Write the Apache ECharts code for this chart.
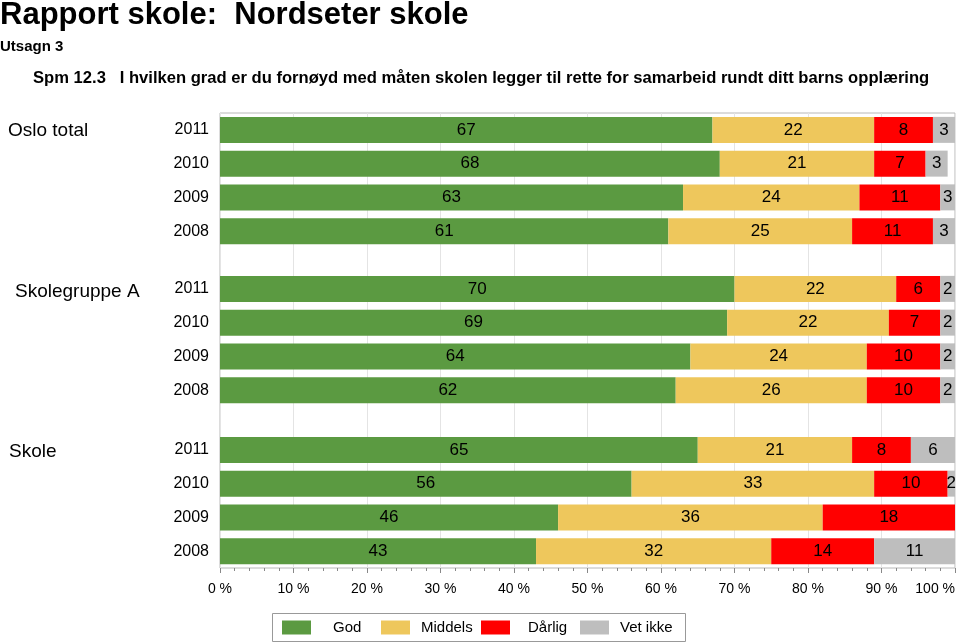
<!DOCTYPE html>
<html>
<head>
<meta charset="utf-8">
<script src="https://cdn.jsdelivr.net/npm/echarts@6/dist/echarts.min.js"></script>
<style>html,body{margin:0;padding:0;background:#fff}#c{width:960px;height:643px}</style>
</head>
<body>
<div id="c"></div>
<script>
var years = ['2011', '2010', '2009', '2008'];
var groups = ['Oslo total', 'Skolegruppe A', 'Skole'];
var categories = ['God', 'Middels', 'Dårlig', 'Vet ikke'];
var colors = ['#5B9A41', '#EEC75C', '#FF0000', '#BEBEBE'];

// values per group: [God, Middels, Dårlig, Vet ikke] by year (2011..2008)
var osloGod = [67, 68, 63, 61];
var osloMiddels = [22, 21, 24, 25];
var osloDarlig = [8, 7, 11, 11];
var osloVetIkke = [3, 3, 3, 3];

var gruppeGod = [70, 69, 64, 62];
var gruppeMiddels = [22, 22, 24, 26];
var gruppeDarlig = [6, 7, 10, 10];
var gruppeVetIkke = [2, 2, 2, 2];

var skoleGod = [65, 56, 46, 43];
var skoleMiddels = [21, 33, 36, 32];
var skoleDarlig = [8, 10, 18, 14];
var skoleVetIkke = [6, 2, 0, 11];

var xTicks = [0, 10, 20, 30, 40, 50, 60, 70, 80, 90, 100];

var groupData = [
  [osloGod, osloMiddels, osloDarlig, osloVetIkke],
  [gruppeGod, gruppeMiddels, gruppeDarlig, gruppeVetIkke],
  [skoleGod, skoleMiddels, skoleDarlig, skoleVetIkke]
];

var FONT = 'Liberation Sans, Arial, Helvetica, sans-serif';
var gridTops = [113, 272, 433];
var slotH = 33.75;

var grids = [{left: 220, right: 5, top: 113, bottom: 75, show: true, borderColor: '#b8b8b8', borderWidth: 1, z: 0, containLabel: false, outerBoundsMode: 'none'}];
var xAxes = [{
  gridIndex: 0, type: 'value', min: xTicks[0], max: xTicks[xTicks.length - 1], interval: 10,
  axisLine: {show: false},
  axisTick: {show: true, length: 5, lineStyle: {color: '#888'}},
  minorTick: {show: true, splitNumber: 5, length: 3, lineStyle: {color: '#888'}},
  splitLine: {show: true, lineStyle: {color: '#e4e4e4', width: 1}},
  axisLabel: {formatter: '{value} %', color: '#000', fontSize: 14, fontFamily: FONT, margin: 14, hideOverlap: false, alignMaxLabel: 'right', overflow: 'none'}
}];
var yAxes = [{gridIndex: 0, type: 'value', show: false}];
var series = [];

groups.forEach(function (g, gi) {
  var idx = gi + 1;
  grids.push({left: 220, right: 5, top: gridTops[gi], height: slotH * years.length, show: false, containLabel: false, outerBoundsMode: 'none'});
  xAxes.push({gridIndex: idx, type: 'value', min: 0, max: 100, show: false, splitLine: {show: false}});
  yAxes.push({
    gridIndex: idx, type: 'category', data: years, inverse: true,
    axisLine: {show: false}, axisTick: {show: false}, splitLine: {show: false},
    axisLabel: {color: '#000', fontSize: 16, fontFamily: FONT, margin: 11}
  });
  categories.forEach(function (cat, ci) {
    series.push({
      name: cat, type: 'bar', stack: 'g' + gi,
      xAxisIndex: idx, yAxisIndex: idx,
      barWidth: 26,
      itemStyle: {color: colors[ci]},
      label: {
        show: true, position: 'inside', color: '#000', fontSize: 17, fontFamily: FONT,
        formatter: function (p) { return p.value ? String(p.value) : ''; }
      },
      data: groupData[gi][ci]
    });
  });
});

var groupLabelPos = [[8, 131], [15, 292], [9, 452]];
var graphics = groups.map(function (g, gi) {
  return {
    type: 'text', left: groupLabelPos[gi][0], top: groupLabelPos[gi][1] - 10,
    style: {text: g, fontSize: 19, fontFamily: FONT, fill: '#000'}
  };
});
// legend frame
graphics.push({
  type: 'rect', left: 272, top: 613, z: -1,
  shape: {width: 413, height: 28},
  style: {fill: '#fff', stroke: '#999', lineWidth: 1}
});

// one legend component per item so each sits in its own cell
var legendLeft = [282, 381, 481, 580];
var legendTextGap = [17, 6, 13, 6];
var legends = categories.map(function (cat, i) {
  return {
    data: [cat], left: legendLeft[i], top: 620, padding: 0,
    itemWidth: 29, itemHeight: 14, icon: 'rect',
    textStyle: {fontSize: 15, fontFamily: FONT, color: '#000', padding: [0, 0, 0, legendTextGap[i]]}
  };
});

var chart = echarts.init(document.getElementById('c'));
chart.setOption({
  animation: false,
  title: [
    {text: 'Rapport skole:  Nordseter skole', left: 0, top: 0, padding: 0, textStyle: {fontSize: 31, fontWeight: 'bold', color: '#000', fontFamily: FONT}},
    {text: 'Utsagn 3', left: 0, top: 39, padding: 0, textStyle: {fontSize: 15, fontWeight: 'bold', color: '#000', fontFamily: FONT}},
    {text: 'Spm 12.3   I hvilken grad er du fornøyd med måten skolen legger til rette for samarbeid rundt ditt barns opplæring', left: 33, top: 70, padding: 0, textStyle: {fontSize: 16.6, fontWeight: 'bold', color: '#000', fontFamily: FONT}}
  ],
  legend: legends,
  grid: grids,
  xAxis: xAxes,
  yAxis: yAxes,
  series: series,
  graphic: graphics
});
</script>
</body>
</html>
